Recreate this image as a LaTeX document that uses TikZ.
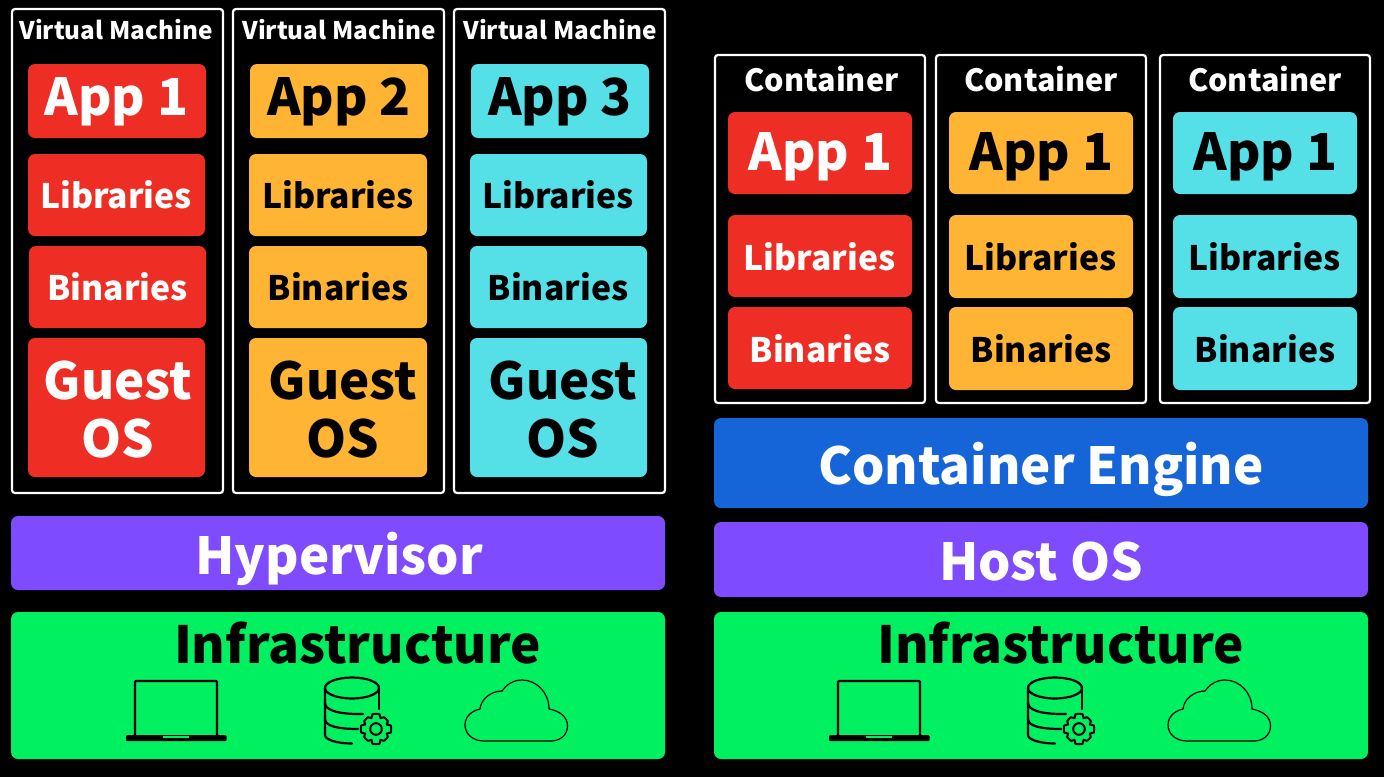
\documentclass[tikz,border=0pt]{standalone}
\usepackage{fontspec}
\setmainfont{Noto Sans CJK JP}
\definecolor{cred}{HTML}{EE2E24}
\definecolor{corange}{HTML}{FFB433}
\definecolor{ccyan}{HTML}{55DFE6}
\definecolor{cpurple}{HTML}{7E4BFF}
\definecolor{cblue}{HTML}{1565D8}
\definecolor{cgreen}{HTML}{00F05F}
\tikzset{
  x=1pt,y=-1pt,
  frame/.style={draw=white,line width=2.2pt,rounded corners=3pt,fill=black},
  block/.style={rounded corners=7pt,draw=none},
  lbl/.style={anchor=base,inner sep=0pt},
  icon/.style={draw=black,line width=2.2pt,line cap=round,line join=round,fill=none},
}
\newcommand{\blk}[9]{\fill[block,#6] (#2,#3) rectangle (#4,#5);\blklabel{#1}{#7}{#8}{#9}}
\newcommand{\blklabel}[6]{\node[lbl,text=#2,font=\fontsize{#3}{#3}\selectfont\bfseries] (#1) at (#5,#6) {#4};}
\newcommand{\frm}[5]{\draw[frame] (#2,#3) rectangle (#4,#5);}
\newcommand{\ttl}[4]{\node[lbl,text=white,font=\fontsize{#4}{#4}\selectfont\bfseries] (#1) at (#3) {#2};}
\newcommand{\icons}[1]{%
\begin{scope}[xshift=#1pt]
  \draw[icon,rounded corners=1pt] (135,735)--(135,681)--(217,681)--(217,735);
  \fill[black,rounded corners=1pt] (126,735) rectangle (226.5,741);
  \fill[cgreen] (163,736.2) rectangle (189,737.6);
  \draw[icon] (352,688) ellipse [x radius=27,y radius=10.5];
  \draw[icon] (325,688)--(325,735) .. controls (325,740) and (338,743.5) .. (352,743.5);
  \draw[icon] (379,688)--(379,709);
  \draw[icon] (325,703) .. controls (325,710) and (338,714.5) .. (363,714);
  \draw[icon] (325,719) .. controls (325,726) and (338,729) .. (358,729);
  \draw[icon,line width=2pt] (376,729) circle (5.8);
  \draw[icon,line width=2pt] plot[smooth cycle,tension=0.35] coordinates {
    (376+14.8,729-3.5) (376+14.8,729+3.5) (376+10.8,729+4.5) (376+11.8,729+8) (376+8,729+11.8) (376+4.5,729+10.8)
    (376+3.5,729+14.8) (376-3.5,729+14.8) (376-4.5,729+10.8) (376-8,729+11.8) (376-11.8,729+8) (376-10.8,729+4.5)
    (376-14.8,729+3.5) (376-14.8,729-3.5) (376-10.8,729-4.5) (376-11.8,729-8) (376-8,729-11.8) (376-4.5,729-10.8)
    (376-3.5,729-14.8) (376+3.5,729-14.8) (376+4.5,729-10.8) (376+8,729-11.8) (376+11.8,729-8) (376+10.8,729-4.5)};
  \draw[icon,line width=1.2pt] (484,741) .. controls (473,741) and (465,734) .. (465,725)
     .. controls (465,717) and (471,711) .. (480,709)
     .. controls (481,699) and (491,691) .. (502,691)
     .. controls (506,685) and (513,680) .. (522,680)
     .. controls (536,680) and (549,692) .. (549,709)
     .. controls (560,711) and (567.5,717) .. (567.5,726)
     .. controls (567.5,735) and (560,741) .. (551,741) -- cycle;
\end{scope}}
\begin{document}
\begin{tikzpicture}
\useasboundingbox[fill=black] (0,0) rectangle (1384,777);
\frm{f1}{12}{9}{223}{493}
\frm{f2}{233}{9}{444}{493}
\frm{f3}{454}{9}{665}{493}
\ttl{t1}{Virtual Machine}{116,39}{24.3}
\ttl{t2}{Virtual Machine}{339,39}{24.3}
\ttl{t3}{Virtual Machine}{560,39}{24.3}
\blk{a1}{28}{64}{206}{138}{cred}{white}{51}{App 1}{116.5}{115}
\blk{l1}{28}{154}{205}{236}{cred}{white}{33.7}{Libraries}{116}{208}
\blk{b1}{29}{246}{206}{328}{cred}{white}{33.7}{Binaries}{117.5}{300}
\blk{g1}{28}{338}{205}{477}{cred}{white}{51}{Guest}{118}{399}
\blklabel{o1}{white}{51}{OS}{117.5}{457}
\blk{a2}{250}{64}{428}{138}{corange}{black}{51}{App 2}{339}{115}
\blk{l2}{249}{154}{427}{236}{corange}{black}{33.7}{Libraries}{338}{208}
\blk{b2}{249}{246}{427}{328}{corange}{black}{33.7}{Binaries}{338}{300}
\blk{g2}{249}{338}{427}{477}{corange}{black}{51}{Guest}{343}{399}
\blklabel{o2}{black}{51}{OS}{342.5}{457}
\blk{a3}{471}{64}{649}{138}{ccyan}{black}{51}{App 3}{560}{115}
\blk{l3}{470}{154}{647}{236}{ccyan}{black}{33.7}{Libraries}{558}{208}
\blk{b3}{470}{246}{647}{328}{ccyan}{black}{33.7}{Binaries}{558}{300}
\blk{g3}{470}{338}{647}{477}{ccyan}{black}{51}{Guest}{563}{399}
\blklabel{o3}{black}{51}{OS}{563}{457}
\blk{hy}{11}{516}{665}{590}{cpurple}{white}{51}{Hypervisor}{339}{574}
\blk{il}{11}{612}{665}{759}{cgreen}{black}{51.2}{Infrastructure}{357.5}{663}
\frm{c1}{715}{55}{925}{403}
\frm{c2}{936}{55}{1146}{403}
\frm{c3}{1160}{55}{1370}{403}
\ttl{u1}{Container}{821.5,91}{30.6}
\ttl{u2}{Container}{1041,91}{30.6}
\ttl{u3}{Container}{1265,91}{30.6}
\blk{ca1}{728}{112}{912}{194}{cred}{white}{51}{App 1}{820.5}{170}
\blk{cl1}{728}{215}{912}{297}{cred}{white}{33.7}{Libraries}{819.5}{270}
\blk{cb1}{728}{307}{912}{389}{cred}{white}{33.7}{Binaries}{820}{362}
\blk{ca2}{949}{112}{1133}{194}{corange}{black}{51}{App 1}{1041.5}{170}
\blk{cl2}{949}{215}{1133}{298}{corange}{black}{33.7}{Libraries}{1040.5}{270}
\blk{cb2}{949}{307}{1133}{390}{corange}{black}{33.7}{Binaries}{1041}{362}
\blk{ca3}{1173}{112}{1357}{194}{ccyan}{black}{51}{App 1}{1265.5}{170}
\blk{cl3}{1173}{215}{1357}{298}{ccyan}{black}{33.7}{Libraries}{1264.5}{270}
\blk{cb3}{1173}{307}{1357}{390}{ccyan}{black}{33.7}{Binaries}{1265}{362}
\blk{ce}{714}{418}{1368}{508}{cblue}{white}{51}{Container Engine}{1041}{484}
\blk{ho}{714}{522}{1368}{597}{cpurple}{white}{51}{Host OS}{1041}{580}
\blk{ir}{714}{612}{1368}{759}{cgreen}{black}{51.2}{Infrastructure}{1060.5}{663}
\icons{0}
\icons{703}
\end{tikzpicture}
\end{document}
